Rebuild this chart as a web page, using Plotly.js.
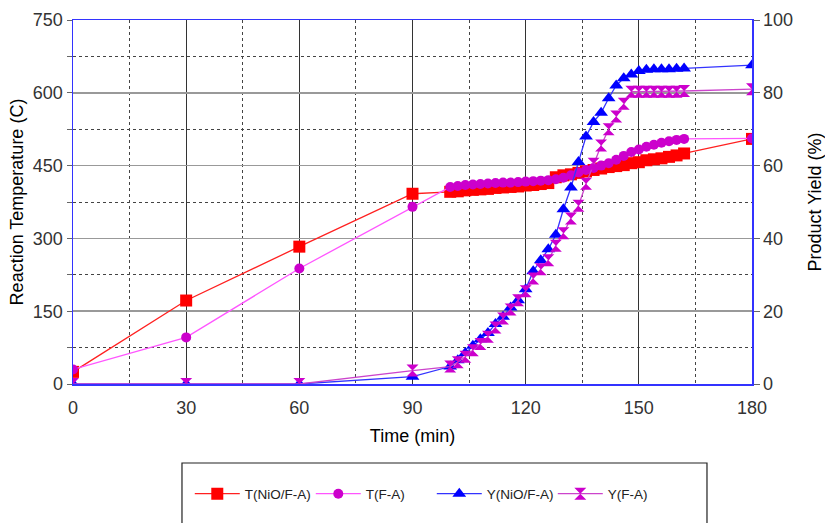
<!DOCTYPE html>
<html>
<head>
<meta charset="utf-8">
<script src="https://cdn.plot.ly/plotly-3.0.1.min.js"></script>
<style>html,body{margin:0;padding:0;background:#fff;}#chart{width:825px;height:523px;}</style>
</head>
<body>
<div id="chart"></div>
<script>
// Time (min)
var timeTNiO = [0,30,60,90,100,102,104,106,108,110,112,114,116,118,120,122,124,126,128,130,132,134,136,138,140,142,144,146,148,150,152,154,156,158,160,162,180];
var tempNiO  = [25,172,283,392,396,397,399,400,401,402,404,405,406,407,409,410,412,414,426,430,432,435,438,441,444,447,449,451,455,457,461,463,465,468,471,475,505];

var timeTFA = [0,30,60,90,100,102,104,106,108,110,112,114,116,118,120,122,124,126,128,130,132,134,136,138,140,142,144,146,148,150,152,154,156,158,160,162,180];
var tempFA  = [30,96,238,365,406,408,410,411,412,413,414,415,415,416,417,418,419,420,422,425,430,436,441,445,450,455,462,470,478,483,489,493,497,500,503,505,506];

var timeYNiO = [0,30,60,90,100,102,104,106,108,110,112,114,116,118,120,122,124,126,128,130,132,134,136,138,140,142,144,146,148,150,152,154,156,158,160,162,180];
var yieldNiO = [0,0,0,2,4.8,6.5,8.5,10.5,12.3,14,16.5,18.5,21,23,26,31,34,37,41,48,54,61,68,72,74.5,78.5,82,84,85,86,86.3,86.5,86.5,86.5,86.6,86.7,87.6];

var timeYFA = [0,30,60,90,100,102,104,106,108,110,112,114,116,118,120,122,124,126,128,130,132,134,136,138,140,142,144,146,148,150,152,154,156,158,160,162,180];
var yieldFA = [0,0,0,3.7,4.8,6,7.5,9.3,11,13,15.5,18,20.5,23,25.5,29,31.5,34,38,41.4,45.5,49,55,60.5,65.5,70,73.5,77,80.3,80.3,80.3,80.3,80.3,80.3,80.3,80.5,81];

var seriesNames = ['T(NiO/F-A)','T(F-A)','Y(NiO/F-A)','Y(F-A)'];

var traces = [
  {x: timeTNiO, y: tempNiO, name: seriesNames[0], type: 'scatter', mode: 'lines+markers',
   line: {color: '#ff2020', width: 1.3}, marker: {symbol: 'square', size: 12, color: '#ff0000'}},
  {x: timeTFA, y: tempFA, name: seriesNames[1], type: 'scatter', mode: 'lines+markers',
   line: {color: '#ff55ff', width: 1.3}, marker: {symbol: 'circle', size: 10, color: '#cc00cc'}},
  {x: timeYNiO, y: yieldNiO, name: seriesNames[2], yaxis: 'y2', type: 'scatter', mode: 'lines+markers',
   line: {color: '#3333ff', width: 1.3}, marker: {symbol: 'triangle-up', size: 12, color: '#0000ff'}},
  {x: timeYFA, y: yieldFA, name: seriesNames[3], yaxis: 'y2', type: 'scatter', mode: 'lines+markers',
   line: {color: '#cc44cc', width: 1.3}, marker: {symbol: 'hourglass', size: 12, color: '#cc00cc'}}
];

var tickFont = {family: 'Liberation Sans, Arial, sans-serif', size: 18, color: '#333'};
var titleFont = {family: 'Liberation Sans, Arial, sans-serif', size: 18, color: '#000'};

var layout = {
  width: 825, height: 523,
  margin: {l: 73, r: 73, t: 20, b: 139, pad: 0, autoexpand: false},
  paper_bgcolor: '#fff', plot_bgcolor: '#fff',
  showlegend: true,
  legend: {orientation: 'h', x: 0.172, xanchor: 'left', y: -0.302, yanchor: 'middle',
    font: {family: 'Liberation Sans, Arial, sans-serif', size: 13.5, color: '#222'},
    bgcolor: 'rgba(0,0,0,0)', borderwidth: 0, entrywidth: 61, entrywidthmode: 'pixels',
    itemwidth: 45, traceorder: 'normal'},
  xaxis: {range: [0, 180], dtick: 30, tick0: 0, showgrid: true, gridcolor: '#333', gridwidth: 1.3,
    zeroline: false, showline: true, linecolor: '#3333ff', linewidth: 1.5, mirror: true,
    ticks: 'outside', ticklen: 7, tickcolor: 'rgba(0,0,0,0)', tickfont: tickFont,
    minor: {dtick: 15, showgrid: true, griddash: 'dot', gridcolor: '#444', gridwidth: 1, ticks: ''},
    title: {text: 'Time (min)', font: titleFont, standoff: 12}},
  yaxis: {range: [0, 750], dtick: 150, tick0: 0, showgrid: true, gridcolor: '#999', gridwidth: 1.5,
    zeroline: false, showline: true, linecolor: '#3333ff', linewidth: 1.5,
    ticks: 'outside', ticklen: 5, tickcolor: '#666', tickfont: tickFont,
    minor: {dtick: 75, showgrid: true, griddash: 'dot', gridcolor: '#444', gridwidth: 1, ticks: 'outside', ticklen: 5, tickcolor: '#666'},
    title: {text: 'Reaction Temperature (C)', font: titleFont, standoff: 4}},
  yaxis2: {range: [0, 100], dtick: 20, tick0: 0, overlaying: 'y', side: 'right', showgrid: false,
    zeroline: false, showline: true, linecolor: '#3333ff', linewidth: 1.5,
    ticks: 'outside', ticklen: 6, tickcolor: '#666', tickfont: tickFont,
    title: {text: 'Product Yield (%)', font: titleFont, standoff: 16}},
  shapes: [
    {type: 'rect', xref: 'paper', yref: 'paper', x0: 0.1605, x1: 0.9337, y0: -0.217, y1: -0.45,
     line: {color: '#222', width: 1.2}, fillcolor: 'rgba(0,0,0,0)', layer: 'above'}
  ]
};

Plotly.newPlot('chart', traces, layout, {displayModeBar: false, staticPlot: true});
</script>
</body>
</html>
